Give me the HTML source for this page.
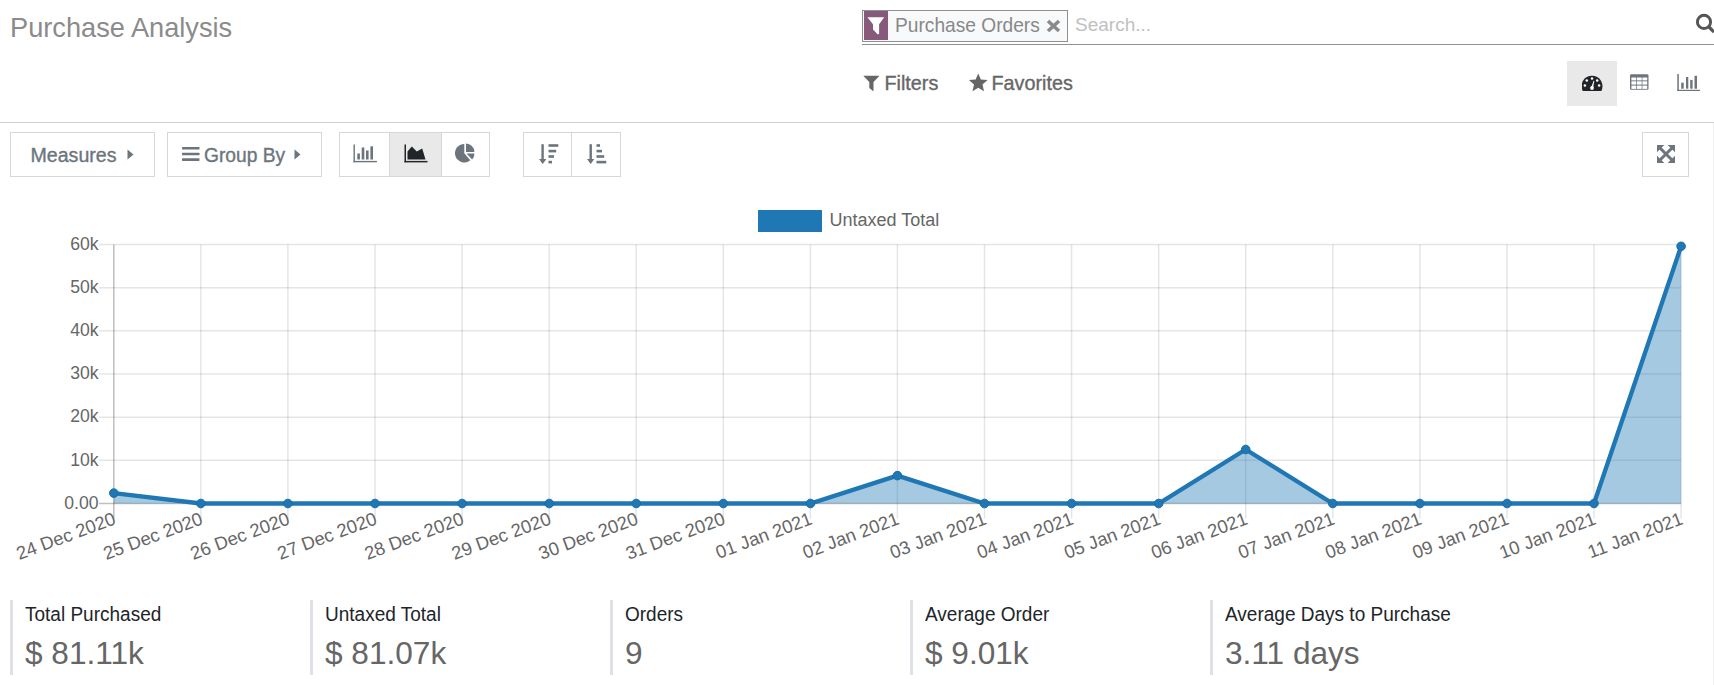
<!DOCTYPE html>
<html><head><meta charset="utf-8">
<style>
*{box-sizing:border-box;margin:0;padding:0}
html,body{width:1714px;height:685px;overflow:hidden;background:#fff;font-family:"Liberation Sans",sans-serif}
.a{position:absolute}
.title{left:10px;top:11.5px;font-size:27.2px;color:#8b8b8b;white-space:nowrap;line-height:32px}
.facet{left:862px;top:10px;width:206px;height:32px;border:1px solid #8f8f8f;background:#f8f9fa}
.facet .ic{position:absolute;left:1px;top:0;width:24px;height:29px;background:#875a7b}
.facet .lbl{position:absolute;left:31.5px;top:1.5px;font-size:20.6px;transform:scaleX(0.93);transform-origin:0 0;color:#888;white-space:nowrap;line-height:24px}
.srch{left:1075px;top:10.5px;font-size:19px;color:#c0c0c0;line-height:28px}
.uline{left:862px;top:44px;width:852px;height:1px;background:#8f8f8f}
.tb{font-size:19.8px;color:#666;white-space:nowrap;-webkit-text-stroke:0.35px #666;line-height:24px}
.hr{left:0;top:122px;width:1714px;height:1px;background:#d0d0d0}
.btn{border:1px solid #d4d7db;height:45px;top:132px;background:#fff}
.btxt{font-size:19.6px;color:#6c757d;-webkit-text-stroke:0.35px #6c757d;white-space:nowrap;line-height:24px}
.yl{font-size:17.6px;fill:#666}
.xl{font-size:18.4px;fill:#666}
.kb{top:600px;width:3px;height:75px;background:#dee2e6}
.kt{top:602px;font-size:19.5px;transform:scaleX(0.975);transform-origin:0 0;color:#212529;white-space:nowrap;line-height:24px}
.kv{top:635px;font-size:31.6px;color:#666;white-space:nowrap;line-height:36px}
</style></head><body>
<div class="a title">Purchase Analysis</div>
<div class="a facet"><div class="ic"><svg width="24" height="30" viewBox="0 0 24 30"><path d="M3.4 6.2 H20.2 L15.1 13.2 V22.8 L13.8 23.4 L9 18.6 V13.2 Z" fill="#fff"/></svg></div><div class="lbl">Purchase Orders</div>
<svg class="a" style="left:183px;top:8px" width="16" height="14" viewBox="0 0 16 14"><path d="M2 2 L13 12 M13 2 L2 12" stroke="#8a8a8a" stroke-width="3.6" stroke-linecap="butt"/></svg></div>
<div class="a srch">Search...</div>
<div class="a uline"></div>
<svg class="a" style="left:1694px;top:13px" width="20" height="22" viewBox="0 0 20 22"><circle cx="10" cy="8.9" r="6.6" fill="none" stroke="#555" stroke-width="2.9"/><path d="M14.5 13.5 L20 19" stroke="#555" stroke-width="3.2" stroke-linecap="butt"/></svg>

<svg class="a" style="left:863px;top:75px" width="17" height="17" viewBox="0 0 17 17"><path d="M0.3 0.8 H16.5 L10.5 7 V16 L10 16 L6.3 13 V7 Z" fill="#666"/></svg>
<div class="a tb" style="left:884.5px;top:70.5px">Filters</div>
<svg class="a" style="left:967.5px;top:72.5px" width="20.5" height="19.5" viewBox="0 0 24 23"><path d="M12 0.5 L15.1 7.6 L23 8.3 L17 13.5 L18.8 21.5 L12 17.3 L5.2 21.5 L7 13.5 L1 8.3 L8.9 7.6 Z" fill="#666"/></svg>
<div class="a tb" style="left:991.5px;top:70.5px">Favorites</div>

<div class="a" style="left:1567px;top:61px;width:50px;height:45px;background:#e9e9e9"></div>
<svg class="a" style="left:1582px;top:75px" width="21" height="17" viewBox="0 0 21 17"><path d="M0.7 16 A10.5 10.5 0 1 1 19.3 16 Z" fill="#212529"/><g fill="#fff"><circle cx="10" cy="3.5" r="1.25"/><circle cx="4.8" cy="5.5" r="1.25"/><circle cx="15.2" cy="5.5" r="1.25"/><circle cx="2.9" cy="10.6" r="1.25"/><circle cx="17.1" cy="10.6" r="1.25"/><path d="M9.1 12.8 L11.6 5.8 L12.3 6 L11 13.2 Z"/><circle cx="10" cy="13" r="1.9"/></g></svg>
<svg class="a" style="left:1630px;top:74px" width="19" height="17" viewBox="0 0 19 17"><rect x="0" y="0.2" width="18.5" height="15.6" rx="1.3" fill="#6c757d"/><g fill="#fff"><rect x="1.4" y="3.5" width="4.8" height="2.9"/><rect x="6.9" y="3.5" width="4.8" height="2.9"/><rect x="12.4" y="3.5" width="4.8" height="2.9"/><rect x="1.4" y="7.3" width="4.8" height="3.3"/><rect x="6.9" y="7.3" width="4.8" height="3.3"/><rect x="12.4" y="7.3" width="4.8" height="3.3"/><rect x="1.4" y="11.6" width="4.8" height="3.3"/><rect x="6.9" y="11.6" width="4.8" height="3.3"/><rect x="12.4" y="11.6" width="4.8" height="3.3"/></g></svg>
<svg class="a" style="left:1677px;top:74px" width="24" height="18" viewBox="0 0 24 18"><g fill="#6c757d"><rect x="0.3" y="0" width="1.5" height="17"/><rect x="0.3" y="15.8" width="22.7" height="1.2"/><rect x="4.2" y="8.7" width="2.5" height="6"/><rect x="9" y="3" width="2.3" height="11.7"/><rect x="13.2" y="5.9" width="2.4" height="8.8"/><rect x="17.5" y="1.8" width="2.5" height="12.9"/></g></svg>

<div class="a hr"></div>
<div class="a" style="left:1713px;top:123px;width:1px;height:562px;background:#efefef"></div>

<div class="a btn" style="left:10px;width:145px"></div>
<div class="a btxt" style="left:30.5px;top:142.5px">Measures</div>
<svg class="a" style="left:127px;top:149px" width="7" height="11" viewBox="0 0 7 11"><path d="M0.5 0.5 L6.5 5.5 L0.5 10.5 Z" fill="#6c757d"/></svg>
<div class="a btn" style="left:167px;width:155px"></div>
<svg class="a" style="left:182px;top:146px" width="18" height="16" viewBox="0 0 18 16"><g fill="#6c757d"><rect x="0" y="1" width="17.5" height="2.6" rx="0.6"/><rect x="0" y="6.7" width="17.5" height="2.6" rx="0.6"/><rect x="0" y="12.3" width="17.5" height="2.6" rx="0.6"/></g></svg>
<div class="a btxt" style="left:203.5px;top:142.5px;transform:scaleX(0.98);transform-origin:0 0">Group By</div>
<svg class="a" style="left:294px;top:149px" width="7" height="11" viewBox="0 0 7 11"><path d="M0.5 0.5 L6.5 5.5 L0.5 10.5 Z" fill="#6c757d"/></svg>

<div class="a btn" style="left:339px;width:151px"></div>
<div class="a" style="left:390px;top:133px;width:51px;height:43px;background:#e9e9e9"></div>
<div class="a" style="left:389px;top:133px;width:1px;height:43px;background:#d4d7db"></div>
<div class="a" style="left:441px;top:133px;width:1px;height:43px;background:#d4d7db"></div>
<svg class="a" style="left:353px;top:144px" width="25" height="19" viewBox="0 0 25 19"><g fill="#6c757d"><rect x="0.5" y="0.5" width="1.4" height="17.8"/><rect x="0.5" y="16.9" width="23.4" height="1.4"/><rect x="4.3" y="9.5" width="2.6" height="6"/><rect x="8.7" y="3.5" width="2.6" height="12"/><rect x="13" y="6.5" width="2.6" height="9"/><rect x="17.4" y="2.3" width="2.6" height="13.2"/></g></svg>
<svg class="a" style="left:404px;top:144px" width="25" height="19" viewBox="0 0 25 19"><g fill="#212529"><rect x="0.5" y="0.5" width="1.5" height="17.8"/><rect x="0.5" y="16.9" width="23" height="1.5"/><path d="M3.5 15.5 V7.5 L7.8 2.5 L12.8 7.5 L18.2 4.5 L21.5 15.5 Z"/></g></svg>
<svg class="a" style="left:453px;top:141px" width="24" height="24" viewBox="0 0 24 24"><g fill="#6c757d"><path d="M11.3 12.2 V2.9 A9.3 9.3 0 1 0 17.3 19.3 Z"/><path d="M13 11 V2.6 A8.5 8.5 0 0 1 21.4 11 Z"/><path d="M13.5 12.6 H21.5 A8.4 8.4 0 0 1 19.1 18.5 Z"/></g></svg>

<div class="a btn" style="left:523px;width:98px"></div>
<div class="a" style="left:571px;top:133px;width:1px;height:43px;background:#d4d7db"></div>
<svg class="a" style="left:538px;top:144px" width="22" height="21" viewBox="0 0 22 21"><g fill="#6c757d"><rect x="3.4" y="0.2" width="2.4" height="16"/><path d="M1 15 H8.4 L4.7 20 Z"/><rect x="10.5" y="0.2" width="9.8" height="2.6"/><rect x="10.5" y="5.8" width="7.7" height="2.6"/><rect x="10.5" y="11.2" width="5.5" height="2.6"/><rect x="10.5" y="16.8" width="3.5" height="2.6"/></g></svg>
<svg class="a" style="left:586px;top:144px" width="22" height="21" viewBox="0 0 22 21"><g fill="#6c757d"><rect x="3.5" y="0.2" width="2.4" height="16"/><path d="M1 15 H8.3 L4.7 20 Z"/><rect x="10.5" y="0.2" width="3.5" height="2.6"/><rect x="10.5" y="5.8" width="5.5" height="2.6"/><rect x="10.5" y="11.2" width="7.7" height="2.6"/><rect x="10.5" y="16.8" width="9.8" height="2.6"/></g></svg>

<div class="a btn" style="left:1642px;width:47px"></div>
<svg class="a" style="left:1657px;top:144.5px" width="18" height="18" viewBox="0 0 18 18"><g fill="#6c757d"><path d="M0 0 H7.3 L0 7.3 Z"/><path d="M18 0 V7.3 L10.7 0 Z"/><path d="M0 18 V10.7 L7.3 18 Z"/><path d="M18 18 H10.7 L18 10.7 Z"/></g><path d="M2.5 2.5 L15.5 15.5 M15.5 2.5 L2.5 15.5" stroke="#6c757d" stroke-width="3"/></svg>

<div class="a" style="left:758px;top:210px;width:64px;height:22px;background:#1f77b4"></div>
<div class="a" style="left:829.5px;top:209px;font-size:18px;color:#666;line-height:22px;white-space:nowrap">Untaxed Total</div>

<svg class="a" style="left:0;top:0" width="1714" height="685" viewBox="0 0 1714 685">
<line x1="113.8" y1="244.5" x2="113.8" y2="518.5" stroke="rgba(0,0,0,0.25)" stroke-width="1.5"/>
<line x1="200.9" y1="244.5" x2="200.9" y2="518.5" stroke="rgba(0,0,0,0.1)" stroke-width="1.5"/>
<line x1="287.9" y1="244.5" x2="287.9" y2="518.5" stroke="rgba(0,0,0,0.1)" stroke-width="1.5"/>
<line x1="375.0" y1="244.5" x2="375.0" y2="518.5" stroke="rgba(0,0,0,0.1)" stroke-width="1.5"/>
<line x1="462.1" y1="244.5" x2="462.1" y2="518.5" stroke="rgba(0,0,0,0.1)" stroke-width="1.5"/>
<line x1="549.2" y1="244.5" x2="549.2" y2="518.5" stroke="rgba(0,0,0,0.1)" stroke-width="1.5"/>
<line x1="636.2" y1="244.5" x2="636.2" y2="518.5" stroke="rgba(0,0,0,0.1)" stroke-width="1.5"/>
<line x1="723.3" y1="244.5" x2="723.3" y2="518.5" stroke="rgba(0,0,0,0.1)" stroke-width="1.5"/>
<line x1="810.4" y1="244.5" x2="810.4" y2="518.5" stroke="rgba(0,0,0,0.1)" stroke-width="1.5"/>
<line x1="897.4" y1="244.5" x2="897.4" y2="518.5" stroke="rgba(0,0,0,0.1)" stroke-width="1.5"/>
<line x1="984.5" y1="244.5" x2="984.5" y2="518.5" stroke="rgba(0,0,0,0.1)" stroke-width="1.5"/>
<line x1="1071.6" y1="244.5" x2="1071.6" y2="518.5" stroke="rgba(0,0,0,0.1)" stroke-width="1.5"/>
<line x1="1158.7" y1="244.5" x2="1158.7" y2="518.5" stroke="rgba(0,0,0,0.1)" stroke-width="1.5"/>
<line x1="1245.7" y1="244.5" x2="1245.7" y2="518.5" stroke="rgba(0,0,0,0.1)" stroke-width="1.5"/>
<line x1="1332.8" y1="244.5" x2="1332.8" y2="518.5" stroke="rgba(0,0,0,0.1)" stroke-width="1.5"/>
<line x1="1419.9" y1="244.5" x2="1419.9" y2="518.5" stroke="rgba(0,0,0,0.1)" stroke-width="1.5"/>
<line x1="1507.0" y1="244.5" x2="1507.0" y2="518.5" stroke="rgba(0,0,0,0.1)" stroke-width="1.5"/>
<line x1="1594.0" y1="244.5" x2="1594.0" y2="518.5" stroke="rgba(0,0,0,0.1)" stroke-width="1.5"/>
<line x1="1681.1" y1="244.5" x2="1681.1" y2="518.5" stroke="rgba(0,0,0,0.1)" stroke-width="1.5"/>
<line x1="99" y1="244.5" x2="1681.1" y2="244.5" stroke="rgba(0,0,0,0.1)" stroke-width="1.5"/>
<line x1="99" y1="287.7" x2="1681.1" y2="287.7" stroke="rgba(0,0,0,0.1)" stroke-width="1.5"/>
<line x1="99" y1="330.8" x2="1681.1" y2="330.8" stroke="rgba(0,0,0,0.1)" stroke-width="1.5"/>
<line x1="99" y1="374.0" x2="1681.1" y2="374.0" stroke="rgba(0,0,0,0.1)" stroke-width="1.5"/>
<line x1="99" y1="417.2" x2="1681.1" y2="417.2" stroke="rgba(0,0,0,0.1)" stroke-width="1.5"/>
<line x1="99" y1="460.3" x2="1681.1" y2="460.3" stroke="rgba(0,0,0,0.1)" stroke-width="1.5"/>
<line x1="99" y1="503.5" x2="1681.1" y2="503.5" stroke="rgba(0,0,0,0.25)" stroke-width="1.5"/>
<text x="98.5" y="249.7" text-anchor="end" class="yl">60k</text>
<text x="98.5" y="292.9" text-anchor="end" class="yl">50k</text>
<text x="98.5" y="336.0" text-anchor="end" class="yl">40k</text>
<text x="98.5" y="379.2" text-anchor="end" class="yl">30k</text>
<text x="98.5" y="422.4" text-anchor="end" class="yl">20k</text>
<text x="98.5" y="465.5" text-anchor="end" class="yl">10k</text>
<text x="98.5" y="508.7" text-anchor="end" class="yl">0.00</text>
<polygon points="113.8,503.5 113.8,493.1 200.9,503.5 287.9,503.5 375.0,503.5 462.1,503.5 549.2,503.5 636.2,503.5 723.3,503.5 810.4,503.5 897.4,475.6 984.5,503.5 1071.6,503.5 1158.7,503.5 1245.7,449.5 1332.8,503.5 1419.9,503.5 1507.0,503.5 1594.0,503.5 1681.1,246.3 1681.1,503.5" fill="rgba(31,119,180,0.4)"/>
<polyline points="113.8,493.1 200.9,503.5 287.9,503.5 375.0,503.5 462.1,503.5 549.2,503.5 636.2,503.5 723.3,503.5 810.4,503.5 897.4,475.6 984.5,503.5 1071.6,503.5 1158.7,503.5 1245.7,449.5 1332.8,503.5 1419.9,503.5 1507.0,503.5 1594.0,503.5 1681.1,246.3" fill="none" stroke="#1f77b4" stroke-width="4.3" stroke-linejoin="miter" stroke-miterlimit="10"/>
<circle cx="113.8" cy="493.1" r="4.3" fill="#1f77b4" stroke="#1b6ca6" stroke-width="1"/>
<circle cx="200.9" cy="503.5" r="4.3" fill="#1f77b4" stroke="#1b6ca6" stroke-width="1"/>
<circle cx="287.9" cy="503.5" r="4.3" fill="#1f77b4" stroke="#1b6ca6" stroke-width="1"/>
<circle cx="375.0" cy="503.5" r="4.3" fill="#1f77b4" stroke="#1b6ca6" stroke-width="1"/>
<circle cx="462.1" cy="503.5" r="4.3" fill="#1f77b4" stroke="#1b6ca6" stroke-width="1"/>
<circle cx="549.2" cy="503.5" r="4.3" fill="#1f77b4" stroke="#1b6ca6" stroke-width="1"/>
<circle cx="636.2" cy="503.5" r="4.3" fill="#1f77b4" stroke="#1b6ca6" stroke-width="1"/>
<circle cx="723.3" cy="503.5" r="4.3" fill="#1f77b4" stroke="#1b6ca6" stroke-width="1"/>
<circle cx="810.4" cy="503.5" r="4.3" fill="#1f77b4" stroke="#1b6ca6" stroke-width="1"/>
<circle cx="897.4" cy="475.6" r="4.3" fill="#1f77b4" stroke="#1b6ca6" stroke-width="1"/>
<circle cx="984.5" cy="503.5" r="4.3" fill="#1f77b4" stroke="#1b6ca6" stroke-width="1"/>
<circle cx="1071.6" cy="503.5" r="4.3" fill="#1f77b4" stroke="#1b6ca6" stroke-width="1"/>
<circle cx="1158.7" cy="503.5" r="4.3" fill="#1f77b4" stroke="#1b6ca6" stroke-width="1"/>
<circle cx="1245.7" cy="449.5" r="4.3" fill="#1f77b4" stroke="#1b6ca6" stroke-width="1"/>
<circle cx="1332.8" cy="503.5" r="4.3" fill="#1f77b4" stroke="#1b6ca6" stroke-width="1"/>
<circle cx="1419.9" cy="503.5" r="4.3" fill="#1f77b4" stroke="#1b6ca6" stroke-width="1"/>
<circle cx="1507.0" cy="503.5" r="4.3" fill="#1f77b4" stroke="#1b6ca6" stroke-width="1"/>
<circle cx="1594.0" cy="503.5" r="4.3" fill="#1f77b4" stroke="#1b6ca6" stroke-width="1"/>
<circle cx="1681.1" cy="246.3" r="4.3" fill="#1f77b4" stroke="#1b6ca6" stroke-width="1"/>
<text transform="translate(114.6,517.5) rotate(-20.5)" text-anchor="end" class="xl" dy="0.35em">24 Dec 2020</text>
<text transform="translate(201.7,517.5) rotate(-20.5)" text-anchor="end" class="xl" dy="0.35em">25 Dec 2020</text>
<text transform="translate(288.7,517.5) rotate(-20.5)" text-anchor="end" class="xl" dy="0.35em">26 Dec 2020</text>
<text transform="translate(375.8,517.5) rotate(-20.5)" text-anchor="end" class="xl" dy="0.35em">27 Dec 2020</text>
<text transform="translate(462.9,517.5) rotate(-20.5)" text-anchor="end" class="xl" dy="0.35em">28 Dec 2020</text>
<text transform="translate(550.0,517.5) rotate(-20.5)" text-anchor="end" class="xl" dy="0.35em">29 Dec 2020</text>
<text transform="translate(637.0,517.5) rotate(-20.5)" text-anchor="end" class="xl" dy="0.35em">30 Dec 2020</text>
<text transform="translate(724.1,517.5) rotate(-20.5)" text-anchor="end" class="xl" dy="0.35em">31 Dec 2020</text>
<text transform="translate(811.2,517.5) rotate(-20.5)" text-anchor="end" class="xl" dy="0.35em">01 Jan 2021</text>
<text transform="translate(898.2,517.5) rotate(-20.5)" text-anchor="end" class="xl" dy="0.35em">02 Jan 2021</text>
<text transform="translate(985.3,517.5) rotate(-20.5)" text-anchor="end" class="xl" dy="0.35em">03 Jan 2021</text>
<text transform="translate(1072.4,517.5) rotate(-20.5)" text-anchor="end" class="xl" dy="0.35em">04 Jan 2021</text>
<text transform="translate(1159.5,517.5) rotate(-20.5)" text-anchor="end" class="xl" dy="0.35em">05 Jan 2021</text>
<text transform="translate(1246.5,517.5) rotate(-20.5)" text-anchor="end" class="xl" dy="0.35em">06 Jan 2021</text>
<text transform="translate(1333.6,517.5) rotate(-20.5)" text-anchor="end" class="xl" dy="0.35em">07 Jan 2021</text>
<text transform="translate(1420.7,517.5) rotate(-20.5)" text-anchor="end" class="xl" dy="0.35em">08 Jan 2021</text>
<text transform="translate(1507.8,517.5) rotate(-20.5)" text-anchor="end" class="xl" dy="0.35em">09 Jan 2021</text>
<text transform="translate(1594.8,517.5) rotate(-20.5)" text-anchor="end" class="xl" dy="0.35em">10 Jan 2021</text>
<text transform="translate(1681.9,517.5) rotate(-20.5)" text-anchor="end" class="xl" dy="0.35em">11 Jan 2021</text>
</svg>

<div class="a kb" style="left:10px"></div><div class="a kt" style="left:25px">Total Purchased</div><div class="a kv" style="left:25px">$ 81.11k</div>
<div class="a kb" style="left:310px"></div><div class="a kt" style="left:325px">Untaxed Total</div><div class="a kv" style="left:325px">$ 81.07k</div>
<div class="a kb" style="left:610px"></div><div class="a kt" style="left:625px">Orders</div><div class="a kv" style="left:625px">9</div>
<div class="a kb" style="left:910px"></div><div class="a kt" style="left:925px">Average Order</div><div class="a kv" style="left:925px">$ 9.01k</div>
<div class="a kb" style="left:1210px"></div><div class="a kt" style="left:1225px">Average Days to Purchase</div><div class="a kv" style="left:1225px">3.11 days</div>
</body></html>
